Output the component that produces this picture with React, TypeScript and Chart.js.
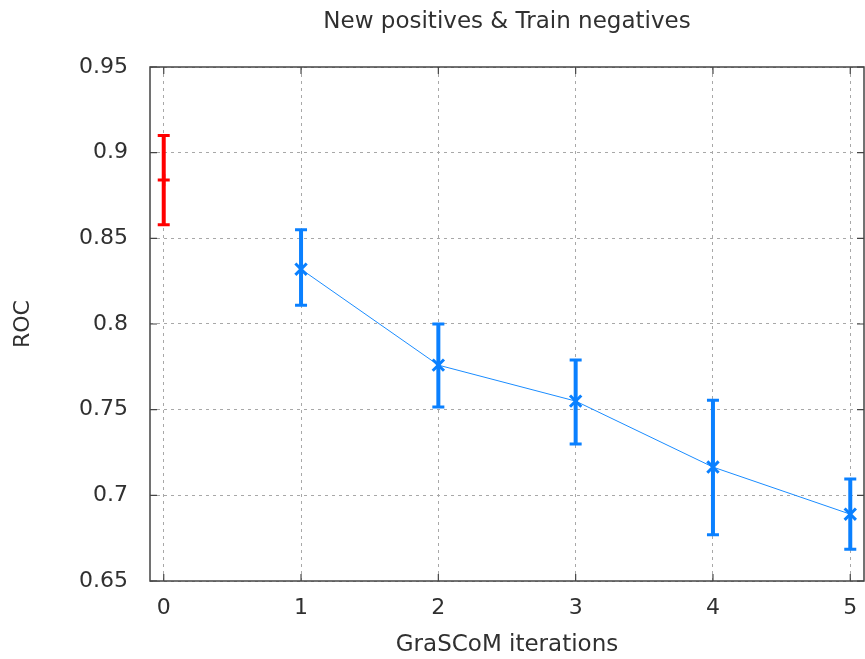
import React, { useEffect, useRef } from 'react';
import { Chart, registerables } from 'chart.js';

Chart.register(...registerables);

const chartTitle = 'New positives & Train negatives';
const xAxisTitle = 'GraSCoM iterations';
const yAxisTitle = 'ROC';

const xTickValues = [0, 1, 2, 3, 4, 5];
const xTickLabels = ['0', '1', '2', '3', '4', '5'];
const yTickValues = [0.65, 0.7, 0.75, 0.8, 0.85, 0.9, 0.95];
const yTickLabels = ['0.65', '0.7', '0.75', '0.8', '0.85', '0.9', '0.95'];

const baselineX = [0];
const baselineMean = [0.884];
const baselineLow = [0.858];
const baselineHigh = [0.91];

const grascomX = [1, 2, 3, 4, 5];
const grascomMean = [0.832, 0.776, 0.755, 0.7165, 0.689];
const grascomLow = [0.811, 0.7515, 0.73, 0.677, 0.6685];
const grascomHigh = [0.855, 0.8, 0.779, 0.7555, 0.7095];

const RED = '#ff0000';
const BLUE = '#0a80ff';
const FONT = 'DejaVu Sans';
const TEXT = '#303030';

const errorBars = [
  { x: baselineX, low: baselineLow, high: baselineHigh, color: RED },
  { x: grascomX, low: grascomLow, high: grascomHigh, color: BLUE },
];

const errorBarPlugin = {
  id: 'errorBars',
  afterDatasetsDraw(chart: any) {
    const ctx = chart.ctx;
    const xs = chart.scales.x;
    const ys = chart.scales.y;
    ctx.save();
    errorBars.forEach((s) => {
      s.x.forEach((xv, i) => {
        const px = xs.getPixelForValue(xv);
        const pl = ys.getPixelForValue(s.low[i]);
        const ph = ys.getPixelForValue(s.high[i]);
        ctx.strokeStyle = s.color;
        ctx.lineCap = 'butt';
        ctx.lineWidth = 4;
        ctx.beginPath();
        ctx.moveTo(px, ph);
        ctx.lineTo(px, pl);
        ctx.stroke();
        ctx.lineWidth = 3;
        ctx.beginPath();
        ctx.moveTo(px - 6, ph);
        ctx.lineTo(px + 6, ph);
        ctx.moveTo(px - 6, pl);
        ctx.lineTo(px + 6, pl);
        ctx.stroke();
      });
    });
    ctx.restore();
  },
};

const framePlugin = {
  id: 'frame',
  afterDraw(chart: any) {
    const ctx = chart.ctx;
    const { left, right, top, bottom } = chart.chartArea;
    const xs = chart.scales.x;
    const ys = chart.scales.y;
    ctx.save();
    ctx.strokeStyle = '#444444';
    ctx.lineWidth = 1.5;
    ctx.strokeRect(left, top, right - left, bottom - top);
    ctx.lineWidth = 1.2;
    ctx.beginPath();
    const tl = 7;
    yTickValues.forEach((v) => {
      const py = ys.getPixelForValue(v);
      ctx.moveTo(left, py);
      ctx.lineTo(left + tl, py);
      ctx.moveTo(right, py);
      ctx.lineTo(right - tl, py);
    });
    xTickValues.forEach((v) => {
      const px = xs.getPixelForValue(v);
      ctx.moveTo(px, bottom);
      ctx.lineTo(px, bottom - tl);
      ctx.moveTo(px, top);
      ctx.lineTo(px, top + tl);
    });
    ctx.stroke();
    ctx.fillStyle = TEXT;
    ctx.textAlign = 'center';
    ctx.textBaseline = 'middle';
    const cx = (left + right) / 2;
    ctx.font = `23px "${FONT}"`;
    ctx.fillText(chartTitle, cx, 22);
    ctx.fillText(xAxisTitle, cx, 645);
    ctx.font = `22px "${FONT}"`;
    ctx.translate(23, (top + bottom) / 2);
    ctx.rotate(-Math.PI / 2);
    ctx.fillText(yAxisTitle, 0, 0);
    ctx.restore();
  },
};

export default function App() {
  const canvasRef = useRef<HTMLCanvasElement | null>(null);

  useEffect(() => {
    const canvas = canvasRef.current;
    if (!canvas) return;
    Chart.defaults.font.family = FONT;
    Chart.defaults.color = TEXT;
    const chart = new Chart(canvas, {
      type: 'line',
      data: {
        datasets: [
          {
            label: 'Train',
            data: baselineX.map((x, i) => ({ x, y: baselineMean[i] })),
            borderColor: RED,
            backgroundColor: RED,
            showLine: false,
            pointStyle: 'cross',
            pointRadius: 6,
            pointBorderWidth: 3,
            pointBorderColor: RED,
          },
          {
            label: 'GraSCoM',
            data: grascomX.map((x, i) => ({ x, y: grascomMean[i] })),
            borderColor: '#1a8cff',
            borderWidth: 1,
            backgroundColor: BLUE,
            pointStyle: 'crossRot',
            pointRadius: 8,
            pointBorderWidth: 3,
            pointBorderColor: BLUE,
            tension: 0,
          },
        ],
      },
      options: {
        responsive: false,
        animation: false,
        layout: { autoPadding: false, padding: { top: 67, right: 1, left: 0, bottom: 0 } },
        plugins: {
          legend: { display: false },
          tooltip: { enabled: false },
          title: { display: false },
        },
        scales: {
          x: {
            type: 'linear',
            min: -0.1,
            max: 5.1,
            afterBuildTicks: (scale: any) => {
              scale.ticks = xTickValues.map((v) => ({ value: v }));
            },
            afterFit: (scale: any) => {
              scale.height = 78;
              scale.paddingLeft = 0;
              scale.paddingRight = 0;
            },
            ticks: {
              callback: (_v: any, i: number) => xTickLabels[i],
              font: { size: 22 },
              padding: 14,
              maxRotation: 0,
              autoSkip: false,
            },
            grid: {
              color: '#a8a8a8',
              lineWidth: 1,
              drawTicks: false,
            },
            border: { display: false, dash: [3, 4] },
          },
          y: {
            type: 'linear',
            min: 0.65,
            max: 0.95,
            afterBuildTicks: (scale: any) => {
              scale.ticks = yTickValues.map((v) => ({ value: v }));
            },
            afterFit: (scale: any) => {
              scale.width = 150;
              scale.paddingTop = 0;
              scale.paddingBottom = 0;
            },
            ticks: {
              callback: (_v: any, i: number) => yTickLabels[i],
              font: { size: 22 },
              padding: 22,
              autoSkip: false,
            },
            grid: {
              color: '#a8a8a8',
              lineWidth: 1,
              drawTicks: false,
            },
            border: { display: false, dash: [3, 4] },
          },
        },
      },
      plugins: [errorBarPlugin, framePlugin],
    });
    return () => chart.destroy();
  }, []);

  return (
    <div style={{ position: 'absolute', left: 0, top: 0, width: 865, height: 659, background: '#fff' }}>
      <canvas ref={canvasRef} width={865} height={659} style={{ display: 'block' }} />
    </div>
  );
}
